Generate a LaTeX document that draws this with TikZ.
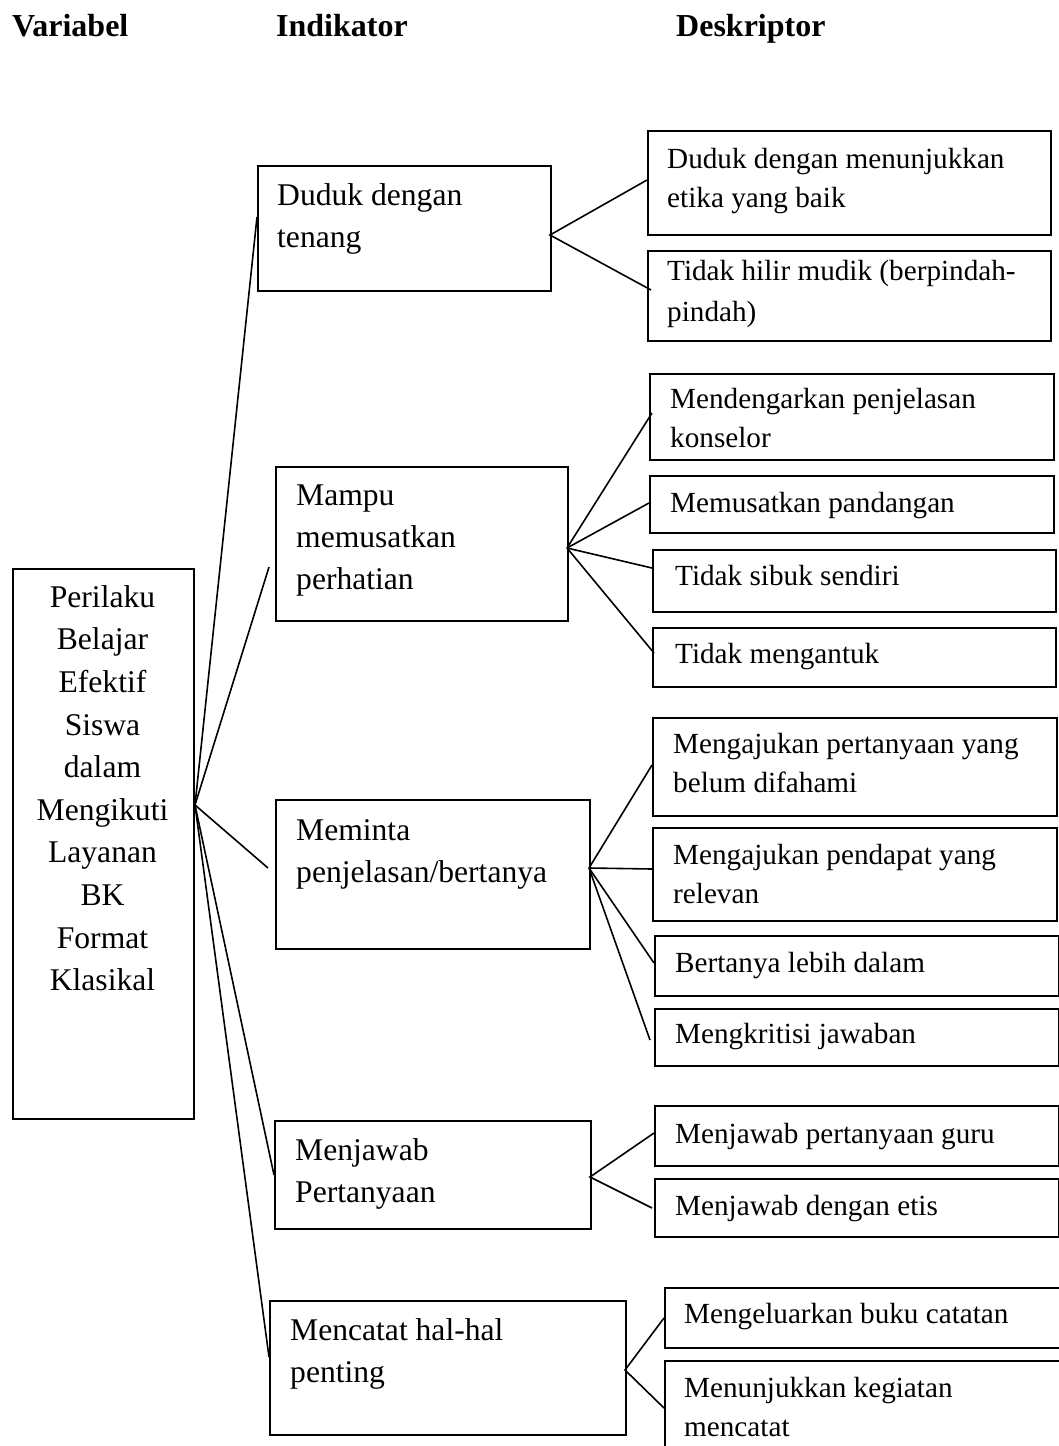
\documentclass[tikz,border=0pt]{standalone}
\usepackage{fontspec}
\setmainfont{Liberation Serif}
\newcommand{\tstrut}{\rule{0pt}{30pt}}
\begin{document}
\begin{tikzpicture}[x=1pt,y=-1pt,
  box/.style={draw, line width=1.9pt, inner sep=0pt, anchor=north west},
  conn/.style={line width=1.6pt},
  itxt/.style={anchor=north west, inner sep=0pt, align=left, font=\fontsize{31.6}{42}\selectfont},
  dtxt/.style={anchor=north west, inner sep=0pt, align=left, font=\fontsize{29.2}{39.5}\selectfont},
  vtxt/.style={anchor=north, inner sep=0pt, align=center, font=\fontsize{31.6}{42.6}\selectfont},
  hdr/.style={anchor=base west, inner sep=0pt, font=\bfseries\fontsize{32}{38}\selectfont}]
\useasboundingbox (0,0) rectangle (1059,1446);
\clip (0,0) rectangle (1059,1446);
\fill[white] (0,0) rectangle (1059,1446);

% headers
\node[hdr] (h1) at (12,36) {Variabel};
\node[hdr] (h2) at (276,36) {Indikator};
\node[hdr] (h3) at (676,36) {Deskriptor};

% variable box
\node[box, minimum width=181pt, minimum height=550pt] (v) at (12,568) {};
\node[vtxt] (vt) at (102.5,577) {\tstrut Perilaku\\Belajar\\Efektif\\Siswa\\dalam\\Mengikuti\\Layanan\\BK\\Format\\Klasikal};

% indicator boxes
\node[box, minimum width=293pt, minimum height=125pt] (b1) at (257,165) {};
\node[itxt] (b1t) at (277,175) {\tstrut Duduk dengan\\tenang};
\node[box, minimum width=292pt, minimum height=154pt] (b2) at (275,466) {};
\node[itxt] (b2t) at (296,475) {\tstrut Mampu\\memusatkan\\perhatian};
\node[box, minimum width=314pt, minimum height=149pt] (b3) at (275,799) {};
\node[itxt] (b3t) at (296,810) {\tstrut Meminta\\penjelasan/bertanya};
\node[box, minimum width=316pt, minimum height=108pt] (b4) at (274,1120) {};
\node[itxt] (b4t) at (295,1130) {\tstrut Menjawab\\Pertanyaan};
\node[box, minimum width=356pt, minimum height=134pt] (b5) at (269,1300) {};
\node[itxt] (b5t) at (290,1310) {\tstrut Mencatat hal-hal\\penting};

% descriptor boxes
\node[box, minimum width=403pt, minimum height=104pt] (d1) at (647,130) {};
\node[dtxt] (d1t) at (667,138) {\tstrut Duduk dengan menunjukkan\\etika yang baik};
\node[box, minimum width=403pt, minimum height=90pt] (d2) at (647,250) {};
\node[dtxt] (d2t) at (667,250) {\tstrut Tidak hilir mudik (berpindah-\\[1.5pt]pindah)};
\node[box, minimum width=404pt, minimum height=86pt] (d3) at (649,373) {};
\node[dtxt] (d3t) at (670,378) {\tstrut Mendengarkan penjelasan\\konselor};
\node[box, minimum width=404pt, minimum height=57pt] (d4) at (649,475) {};
\node[dtxt] (d4t) at (670,482) {\tstrut Memusatkan pandangan};
\node[box, minimum width=403pt, minimum height=62pt] (d5) at (652,549) {};
\node[dtxt] (d5t) at (675,555) {\tstrut Tidak sibuk sendiri};
\node[box, minimum width=403pt, minimum height=59pt] (d6) at (652,627) {};
\node[dtxt] (d6t) at (675,633) {\tstrut Tidak mengantuk};
\node[box, minimum width=404pt, minimum height=98pt] (d7) at (652,717) {};
\node[dtxt] (d7t) at (673,723) {\tstrut Mengajukan pertanyaan yang\\belum difahami};
\node[box, minimum width=404pt, minimum height=93pt] (d8) at (652,827) {};
\node[dtxt] (d8t) at (673,834) {\tstrut Mengajukan pendapat yang\\relevan};
\node[box, minimum width=404pt, minimum height=60pt] (d9) at (654,935) {};
\node[dtxt] (d9t) at (675,942) {\tstrut Bertanya lebih dalam};
\node[box, minimum width=404pt, minimum height=57pt] (d10) at (654,1008) {};
\node[dtxt] (d10t) at (675,1013) {\tstrut Mengkritisi jawaban};
\node[box, minimum width=404pt, minimum height=60pt] (d11) at (654,1105) {};
\node[dtxt] (d11t) at (675,1113) {\tstrut Menjawab pertanyaan guru};
\node[box, minimum width=404pt, minimum height=58pt] (d12) at (654,1178) {};
\node[dtxt] (d12t) at (675,1185) {\tstrut Menjawab dengan etis};
\node[box, minimum width=420pt, minimum height=60pt] (d13) at (664,1287) {};
\node[dtxt] (d13t) at (684,1293) {\tstrut Mengeluarkan buku catatan};
\node[box, minimum width=420pt, minimum height=120pt] (d14) at (664,1360) {};
\node[dtxt] (d14t) at (684,1367) {\tstrut Menunjukkan kegiatan\\mencatat};

% connector points
\coordinate (hub) at (195,805);
\coordinate (e1) at (257,217);
\coordinate (e2) at (269,567);
\coordinate (e3) at (268,868);
\coordinate (e4) at (274,1175);
\coordinate (e5) at (269,1357);
\coordinate (s1) at (550,235);
\coordinate (s2) at (567,548);
\coordinate (s3) at (589,868);
\coordinate (s4) at (590,1177);
\coordinate (s5) at (625,1370);
\coordinate (f1) at (647,180);
\coordinate (f2) at (651,290);
\coordinate (f3) at (652,413);
\coordinate (f4) at (649,503);
\coordinate (f5) at (652,568);
\coordinate (f6) at (654,653);
\coordinate (f7) at (652,765);
\coordinate (f8) at (652,869);
\coordinate (f9) at (654,963);
\coordinate (f10) at (650,1040);
\coordinate (f11) at (654,1133);
\coordinate (f12) at (652,1208);
\coordinate (f13) at (664,1318);
\coordinate (f14) at (664,1408);

% connectors variable -> indicators
\foreach \e in {e1,e2,e3,e4,e5} \draw[conn] (hub) -- (\e);
% indicators -> descriptors
\draw[conn] (f1) -- (s1) -- (f2);
\draw[conn] (s2) -- (f3);
\draw[conn] (s2) -- (f4);
\draw[conn] (s2) -- (f5);
\draw[conn] (s2) -- (f6);
\draw[conn] (s3) -- (f7);
\draw[conn] (s3) -- (f8);
\draw[conn] (s3) -- (f9);
\draw[conn] (s3) -- (f10);
\draw[conn] (f11) -- (s4) -- (f12);
\draw[conn] (f13) -- (s5) -- (f14);
\end{tikzpicture}
\end{document}
